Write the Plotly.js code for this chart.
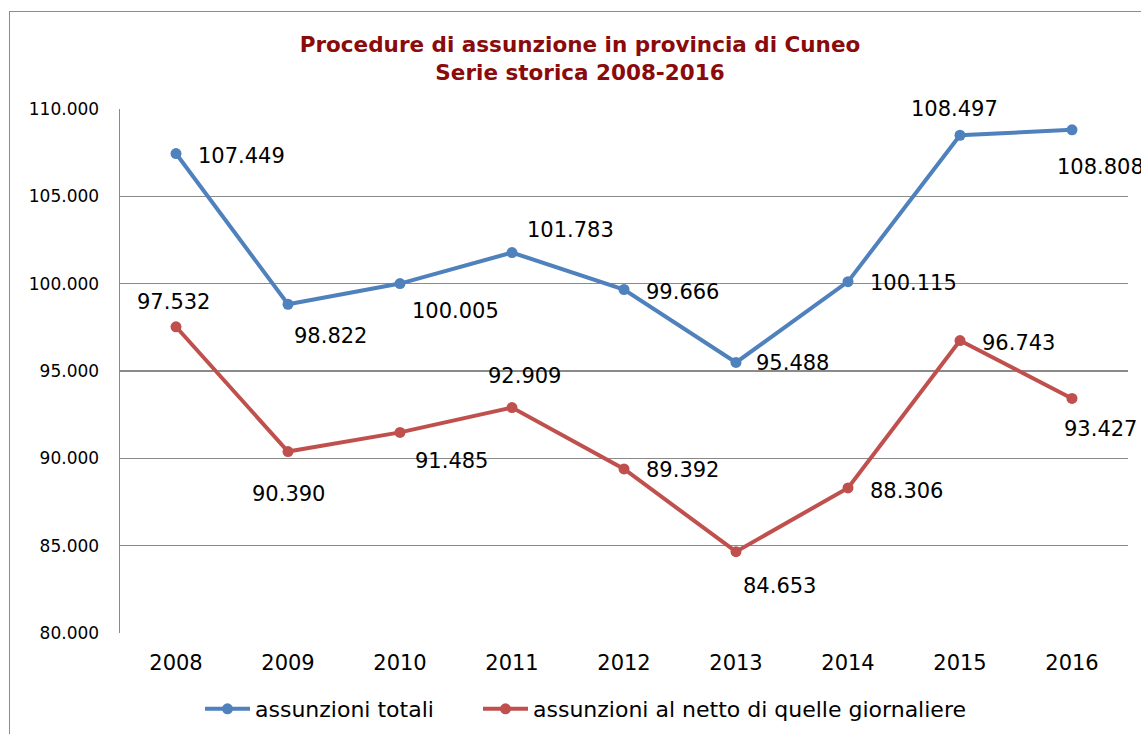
<!DOCTYPE html>
<html>
<head>
<meta charset="utf-8">
<script src="https://cdn.plot.ly/plotly-3.0.1.min.js"></script>
<style>
  html, body { margin: 0; padding: 0; background: #fff; overflow: hidden; }
  #wrap { position: relative; width: 1141px; height: 734px; }
  #chart { width: 1141px; height: 734px; }
  #frame { position: absolute; left: 9px; top: 11px; width: 1200px; height: 800px;
           border: 1px solid #8c8c8c; pointer-events: none; box-sizing: border-box; }
</style>
</head>
<body>
<div id="wrap">
  <div id="chart"></div>
  <div id="frame"></div>
</div>
<script>
const years = ['2008','2009','2010','2011','2012','2013','2014','2015','2016'];
const totali = [107449, 98822, 100005, 101783, 99666, 95488, 100115, 108497, 108808];
const netto = [97532, 90390, 91485, 92909, 89392, 84653, 88306, 96743, 93427];
const seriesNames = ['assunzioni totali', 'assunzioni al netto di quelle giornaliere'];
const titleText = 'Procedure di assunzione in provincia di Cuneo<br>Serie storica 2008-2016';

// label offsets in screen pixels (dx right, dy down) — styling only
const offTot = [[65,2],[42,32],[55,27],[58,-23],[58,2],[56,1],[65,1],[-6,-26],[28,37]];
const offNet = [[-3,-25],[0,42],[51,29],[12,-32],[58,1],[43,34],[58,3],[58,2],[28,31]];

function fmt(v) {
  const s = String(Math.round(v));
  return s.replace(/\B(?=(\d{3})+(?!\d))/g, '.');
}

const blue = '#4F81BD', red = '#C0504D';
const font = 'DejaVu Sans, Verdana, sans-serif';

const traces = [
  { x: years, y: totali, name: seriesNames[0], type: 'scatter', mode: 'lines+markers', legend: 'legend',
    line: { color: blue, width: 4 }, marker: { color: blue, size: 11 }, hoverinfo: 'y' },
  { x: years, y: netto, name: seriesNames[1], type: 'scatter', mode: 'lines+markers', legend: 'legend2',
    line: { color: red, width: 4 }, marker: { color: red, size: 11 }, hoverinfo: 'y' }
];

const annotations = [];
function addLabels(vals, offs) {
  vals.forEach((v, i) => {
    // category index i on the category axis (years[i])
    annotations.push({ x: i, y: v, xref: 'x', yref: 'y', text: fmt(v), showarrow: false,
      xanchor: 'center', yanchor: 'middle', xshift: offs[i][0], yshift: -offs[i][1],
      font: { family: font, size: 21, color: '#000' } });
  });
}
addLabels(totali, offTot);
addLabels(netto, offNet);

const legendBase = { orientation: 'h', xref: 'container', yref: 'container', xanchor: 'left',
  y: 1 - 709/734, yanchor: 'middle', font: { family: font, size: 22, color: '#000' },
  bgcolor: 'rgba(0,0,0,0)', itemwidth: 45 };

const layout = {
  width: 1141, height: 734,
  margin: { l: 120, r: 13, t: 109, b: 101 },
  paper_bgcolor: '#fff', plot_bgcolor: '#fff',
  separators: ',.',
  font: { family: font, color: '#000' },
  title: { text: titleText, xref: 'container', yref: 'container', x: 580/1141, xanchor: 'center',
           y: 1 - 52/734, yanchor: 'top',
           font: { family: font, size: 21.5, color: '#8B0A0A', weight: 'bold' } },
  xaxis: { type: 'category', categoryorder: 'array', categoryarray: years, range: [-0.5, years.length - 0.5],
           showgrid: false, showline: false, zeroline: false, ticks: '',
           ticklabelstandoff: 15, tickfont: { family: font, size: 21, color: '#000' }, fixedrange: true },
  yaxis: { range: [80000, 110000], dtick: 5000, tick0: 80000, tickformat: ',.0f',
           showgrid: true, gridcolor: '#8a8a8a', gridwidth: 1.5,
           showline: true, linecolor: '#8a8a8a', linewidth: 1.5, zeroline: false, ticks: '',
           ticklabelstandoff: 16, tickfont: { family: font, size: 17, color: '#000' }, fixedrange: true },
  showlegend: true,
  legend: Object.assign({}, legendBase, { x: 200/1141 }),
  legend2: Object.assign({}, legendBase, { x: 478/1141 }),
  annotations: annotations
};

Plotly.newPlot('chart', traces, layout, { displayModeBar: false, staticPlot: true });
</script>
</body>
</html>
